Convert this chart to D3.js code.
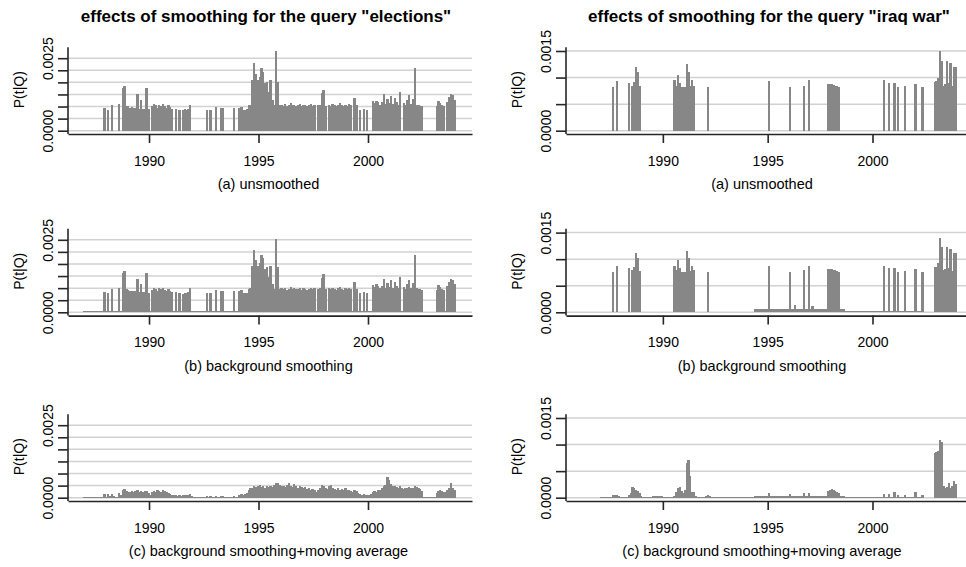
<!DOCTYPE html>
<html>
<head>
<meta charset="utf-8">
<script src="https://cdn.jsdelivr.net/npm/d3@7"></script>
<style>
  body { margin: 0; background: #fff; }
  svg { display: block; font-family: "Liberation Sans", Arial, sans-serif; }
  .grid { stroke: #d2d2d2; stroke-width: 1.5px; }
  .axis-line { stroke: #262626; stroke-width: 1.6px; }
  .bar { fill: #878787; shape-rendering: crispEdges; }
</style>
</head>
<body>
<svg id="chart" width="966" height="567"></svg>
<script>
// monthly values, Jan 1987 .. Dec 2003, one row per year, in units of 1e-5
const firstYear = 1987;
const yearTicks = [1990, 1995, 2000];
const queries = ['elections', 'iraq war'];
const subtitles = ['(a) unsmoothed', '(b) background smoothing', '(c) background smoothing+moving average'];

const electionsRaw = [
  0,0,0,0,0,0,0,0,0,0,0,77,
  0,73,0,88,0,0,0,92,0,146,155,86,
  85,80,82,78,80,125,75,105,75,76,146,74,
  0,85,92,88,80,90,86,92,85,80,88,82,
  76,0,75,0,72,0,70,74,72,76,90,0,
  0,0,0,0,0,0,0,73,0,73,0,0,
  83,0,0,80,80,0,0,0,0,0,80,0,
  0,80,83,73,72,74,88,90,174,234,197,174,
  186,215,203,163,169,134,174,106,88,274,169,88,
  90,86,92,85,88,94,87,90,86,88,92,85,
  90,87,84,88,92,86,90,0,88,90,129,142,
  86,0,90,86,92,88,85,90,95,88,84,90,
  86,92,88,0,114,88,0,73,0,76,0,73,
  0,0,102,95,104,100,90,98,126,92,110,95,
  120,92,112,98,90,134,0,95,88,105,122,92,
  110,215,90,88,86,85,0,0,0,0,0,0,
  0,85,102,95,88,84,0,100,115,126,123,105
];
const electionsBackground = [
  4,4,4,4,4,4,4,4,4,4,4,71,
  4,67,4,81,4,4,4,85,4,134,143,79,
  78,74,75,72,74,115,69,97,69,70,134,68,
  4,78,85,81,74,83,79,85,78,74,81,75,
  70,4,69,4,66,4,64,68,66,70,83,4,
  4,4,4,4,4,4,4,67,4,67,4,4,
  76,4,4,74,74,4,4,4,4,4,74,4,
  4,74,76,67,66,68,81,83,160,215,181,160,
  171,198,187,150,155,123,160,98,81,252,155,81,
  83,79,85,78,81,86,80,83,79,81,85,78,
  83,80,77,81,85,79,83,4,81,83,119,131,
  79,4,83,79,85,81,78,83,87,81,77,83,
  79,85,81,4,105,81,4,67,4,70,4,67,
  4,4,94,87,96,92,83,90,116,85,101,87,
  110,85,103,90,83,123,4,87,81,97,112,85,
  101,198,83,81,79,78,1,1,1,1,1,1,
  1,78,94,87,81,77,4,92,106,116,113,97
];
const electionsMovingAvg = [
  1,1,1,1,1,1,1,1,1,1,1,12,
  4,12,6,14,5,3,4,15,10,25,29,22,
  20,18,22,20,24,28,20,22,18,22,24,15,
  8,18,24,20,25,22,18,28,22,20,15,12,
  10,8,10,5,8,6,8,10,8,10,12,5,
  2,2,2,2,2,2,2,6,3,5,2,3,
  6,3,2,6,7,2,2,2,2,2,6,3,
  4,8,12,10,12,15,28,34,35,42,38,40,
  44,38,42,35,40,38,42,36,44,52,50,45,
  40,42,36,44,50,40,38,46,42,35,40,38,
  32,36,30,32,28,30,25,20,28,35,45,42,
  35,30,40,45,35,30,28,32,26,30,28,32,
  25,28,22,18,28,22,15,12,10,12,8,10,
  8,12,18,22,18,25,28,35,40,45,70,62,
  48,42,40,36,32,40,32,30,35,32,36,34,
  32,40,38,32,30,22,1,1,1,1,1,1,
  1,15,22,25,22,20,18,25,32,50,35,28
];

const iraqRaw = [
  0,0,0,0,0,0,0,82,0,94,0,0,
  0,0,0,0,89,0,85,92,120,110,84,0,
  0,0,0,0,0,0,0,0,0,0,0,0,
  0,0,0,0,0,0,95,85,105,90,82,82,
  82,125,111,84,95,85,0,0,0,0,0,0,
  0,82,0,0,0,0,0,0,0,0,0,0,
  0,0,0,0,0,0,0,0,0,0,0,0,
  0,0,0,0,0,0,0,0,0,0,0,0,
  94,0,0,0,0,0,0,0,0,0,0,0,
  82,0,0,0,0,0,0,0,85,0,0,95,
  0,0,0,0,0,0,0,0,0,0,88,88,
  87,86,85,84,82,0,0,0,0,0,0,0,
  0,0,0,0,0,0,0,0,0,0,0,0,
  0,0,0,0,0,0,95,0,0,90,0,0,
  90,0,82,0,0,0,84,0,0,0,0,0,
  87,0,0,0,82,0,0,0,0,0,0,92,
  93,99,150,131,85,88,132,90,128,84,120,119
];
const iraqBackground = [
  1,1,1,1,1,1,1,76,1,87,1,1,
  1,1,1,1,83,1,79,86,112,102,78,1,
  1,1,1,1,1,1,1,1,1,1,1,1,
  1,1,1,1,1,1,88,79,98,84,76,76,
  76,116,103,78,88,79,1,1,1,1,1,1,
  1,76,1,1,1,1,1,1,1,1,1,1,
  1,1,1,1,1,1,1,1,1,1,1,1,
  1,1,1,1,6,6,6,6,6,6,6,6,
  87,6,6,6,6,6,6,6,6,6,6,6,
  76,6,6,14,6,6,6,6,79,6,6,88,
  6,12,6,6,6,6,6,6,6,6,82,82,
  81,80,79,78,76,6,6,6,3,3,3,3,
  3,3,3,3,3,3,3,3,3,3,3,3,
  3,3,3,3,3,3,88,3,3,84,3,3,
  84,3,76,3,3,3,78,3,3,3,3,3,
  81,3,3,3,76,0,0,0,0,0,0,86,
  86,92,140,122,79,82,123,84,119,78,112,111
];
const iraqMovingAvg = [
  1,1,1,1,1,1,2,6,5,6,3,1,
  1,1,1,1,6,8,20,18,15,12,8,4,
  1,1,1,1,1,1,3,3,3,3,3,3,
  1,1,1,1,1,1,4,10,18,20,12,8,
  14,65,71,40,11,11,4,1,1,1,1,1,
  3,6,3,1,1,1,1,1,1,1,1,1,
  1,1,1,1,1,1,1,1,1,1,1,1,
  1,1,2,2,3,3,3,3,3,3,3,3,
  8,4,4,4,4,4,4,4,4,4,4,4,
  7,4,4,4,4,4,4,4,8,4,4,8,
  4,4,4,4,4,4,4,4,4,4,12,14,
  16,14,12,10,8,4,4,4,2,2,2,2,
  2,2,2,2,2,2,2,2,2,2,2,2,
  2,2,2,2,2,2,7,2,2,7,2,2,
  10,2,6,2,2,2,6,2,2,2,2,2,
  10,2,2,2,6,0,0,0,0,0,0,85,
  86,88,108,104,22,18,20,27,18,22,32,25
];

const series = [
  [electionsRaw, electionsBackground, electionsMovingAvg],
  [iraqRaw, iraqBackground, iraqMovingAvg]
];

// layout of the two columns and three rows
const columns = [
  { axisX: 68, xEnd: 472, years: [1986.30, 2004.75], yMax: 0.0025, gridN: 6, topGap: 72.5, titleX: 266, subX: 268.5 },
  { axisX: 566, xEnd: 966, years: [1985.38, 2004.46], yMax: 0.0015, gridN: 3, topGap: 79.7, titleX: 769, subX: 762 }
];
const rowZero = [130.7, 312.3, 497.7];

const svg = d3.select('#chart');
const fmt = d3.format('.4f');

columns.forEach((col, c) => {
  svg.append('text')
    .attr('x', col.titleX)
    .attr('y', 22)
    .attr('text-anchor', 'middle')
    .style('font-size', '17px')
    .style('font-weight', 'bold')
    .text(`effects of smoothing for the query "${queries[c]}"`);

  const x = d3.scaleLinear().domain(col.years).range([col.axisX, col.xEnd]);

  rowZero.forEach((zero, r) => {
    const values = series[c][r];
    const y = d3.scaleLinear().domain([0, col.yMax]).range([zero, zero - col.topGap]);
    const gridValues = d3.range(col.gridN + 1).map(k => k * col.yMax / col.gridN);
    const xAxisY = zero + 3.3;
    const g = svg.append('g');

    // gridlines
    g.selectAll('line.grid')
      .data(gridValues)
      .enter().append('line')
      .attr('class', 'grid')
      .attr('x1', col.axisX).attr('x2', col.xEnd)
      .attr('y1', d => y(d)).attr('y2', d => y(d));

    // monthly bars (slight overlap so neighbours merge without seams)
    g.selectAll('rect.bar')
      .data(values.map((v, i) => ({ v, i })).filter(d => d.v > 0))
      .enter().append('rect')
      .attr('class', 'bar')
      .attr('x', d => x(firstYear + d.i / 12))
      .attr('width', d => x(firstYear + (d.i + 1) / 12) - x(firstYear + d.i / 12) + 0.5)
      .attr('y', d => y(d.v * 1e-5))
      .attr('height', d => zero - y(d.v * 1e-5));

    // y axis
    const yAxis = g.append('g')
      .attr('transform', `translate(${col.axisX},0)`)
      .call(d3.axisLeft(y).tickValues(gridValues).tickSize(10).tickSizeOuter(0)
        .tickFormat((d, i) => (i === 0 || i === gridValues.length - 1) ? fmt(d) : ''));
    yAxis.select('.domain').remove();
    yAxis.selectAll('.tick line').attr('class', 'axis-line');
    yAxis.selectAll('.tick text')
      .attr('transform', 'rotate(-90)')
      .attr('x', 0).attr('y', -15).attr('dy', 0)
      .attr('text-anchor', 'middle')
      .style('font-size', '14px')
      .style('font-family', '"Liberation Sans", Arial, sans-serif')
      .attr('fill', '#000');
    g.append('line')
      .attr('class', 'axis-line')
      .attr('x1', col.axisX).attr('x2', col.axisX)
      .attr('y1', zero - 83.5).attr('y2', xAxisY);

    // x axis
    const xAxis = g.append('g')
      .attr('transform', `translate(0,${xAxisY})`)
      .call(d3.axisBottom(x).tickValues(yearTicks).tickSize(9).tickSizeOuter(0).tickFormat(d3.format('d')));
    xAxis.select('.domain').attr('class', 'axis-line').attr('fill', 'none');
    xAxis.selectAll('.tick line').attr('class', 'axis-line');
    xAxis.selectAll('.tick text')
      .attr('y', 31.5).attr('dy', 0)
      .style('font-size', '14px')
      .style('font-family', '"Liberation Sans", Arial, sans-serif')
      .attr('fill', '#000');

    // y label
    g.append('text')
      .attr('transform', `translate(${col.axisX - 44},${zero - 41}) rotate(-90)`)
      .attr('text-anchor', 'middle')
      .style('font-size', '14px')
      .text('P(t|Q)');

    // subtitle
    g.append('text')
      .attr('x', col.subX)
      .attr('y', zero + 58.5)
      .attr('text-anchor', 'middle')
      .style('font-size', '14.5px')
      .text(subtitles[r]);
  });
});
</script>
</body>
</html>
